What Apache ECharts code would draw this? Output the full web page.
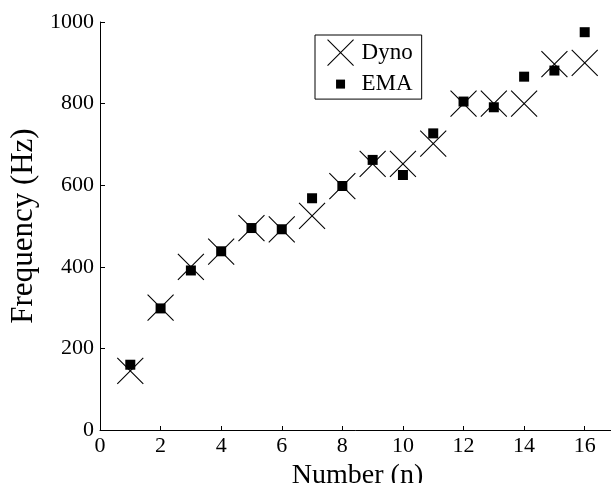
<!DOCTYPE html>
<html>
<head>
<meta charset="utf-8">
<script src="https://cdn.jsdelivr.net/npm/echarts@6/dist/echarts.min.js"></script>
<style>html,body{margin:0;padding:0;background:#fff}#c{width:611px;height:483px}</style>
</head>
<body>
<div id="c"></div>
<script>
var numbers = [1, 2, 3, 4, 5, 6, 7, 8, 9, 10, 11, 12, 13, 14, 15, 16];
var dyno = [145, 300, 400, 437, 495, 492, 525, 598, 652, 652, 702, 800, 800, 800, 897, 900];
var ema  = [160, 298, 391, 438, 495, 492, 568, 598, 662, 625, 727, 805, 791, 866, 881, 975];
var xTicks = [0, 2, 4, 6, 8, 10, 12, 14, 16];
var yTicks = [0, 200, 400, 600, 800, 1000];

var FONT = 'Liberation Serif';
function pairs(xs, ys) { return xs.map(function (x, i) { return [x, ys[i]]; }); }

var XPATH = 'path://M0,0L1,1M1,0L0,1';
var SQPATH = 'path://M0,0M26,26M8.5,8.5L17.5,8.5L17.5,17.5L8.5,17.5Z';

var chart = echarts.init(document.getElementById('c'), null, {renderer: 'canvas'});
chart.setOption({
  animation: false,
  backgroundColor: '#fff',
  textStyle: {fontFamily: FONT, color: '#000'},
  grid: {left: 100, top: 22, bottom: 53, right: -4, containLabel: false, outerBoundsMode: 'none'},
  xAxis: {
    type: 'value', min: 0, max: 17, interval: 2,
    name: 'Number (n)', nameLocation: 'middle', nameGap: 25,
    nameTextStyle: {fontFamily: FONT, fontSize: 28, color: '#000'},
    axisLine: {show: true, lineStyle: {color: '#000', width: 1}},
    axisTick: {show: true, inside: true, length: 4, lineStyle: {color: '#000'}},
    axisLabel: {fontFamily: FONT, fontSize: 22, color: '#000', margin: 5, showMaxLabel: false,
      formatter: function (v) { return xTicks.indexOf(v) >= 0 ? String(v) : ''; }},
    splitLine: {show: false}
  },
  yAxis: {
    type: 'value', min: 0, max: 1000, interval: 200,
    name: 'Frequency (Hz)', nameLocation: 'middle', nameGap: 54,
    nameTextStyle: {fontFamily: FONT, fontSize: 31, color: '#000'},
    axisLine: {show: true, lineStyle: {color: '#000', width: 1}},
    axisTick: {show: true, inside: true, length: 5, lineStyle: {color: '#000'}},
    axisLabel: {fontFamily: FONT, fontSize: 22, color: '#000', margin: 6,
      formatter: function (v) { return yTicks.indexOf(v) >= 0 ? String(v) : ''; }},
    splitLine: {show: false}
  },
  legend: {
    orient: 'vertical', left: 315, top: 35,
    padding: [4, 9, 2, 12], itemGap: 5,
    itemWidth: 26, itemHeight: 26,
    borderColor: '#000', borderWidth: 1, backgroundColor: '#fff',
    textStyle: {fontFamily: FONT, fontSize: 23, color: '#000', padding: [0, 0, 0, 3]},
    data: [
      {name: 'Dyno', icon: XPATH, itemStyle: {color: 'transparent', borderColor: '#000', borderWidth: 1.1}},
      {name: 'EMA', icon: SQPATH, itemStyle: {color: '#000', borderWidth: 0}}
    ]
  },
  series: [
    {
      name: 'Dyno', type: 'scatter', data: pairs(numbers, dyno),
      symbol: XPATH, symbolSize: 26,
      itemStyle: {color: 'transparent', borderColor: '#000', borderWidth: 1.1, opacity: 1},
      emphasis: {disabled: true}, z: 2
    },
    {
      name: 'EMA', type: 'scatter', data: pairs(numbers, ema),
      symbol: 'rect', symbolSize: 10,
      itemStyle: {color: '#000', opacity: 1},
      emphasis: {disabled: true}, z: 3
    }
  ]
});
</script>
</body>
</html>
